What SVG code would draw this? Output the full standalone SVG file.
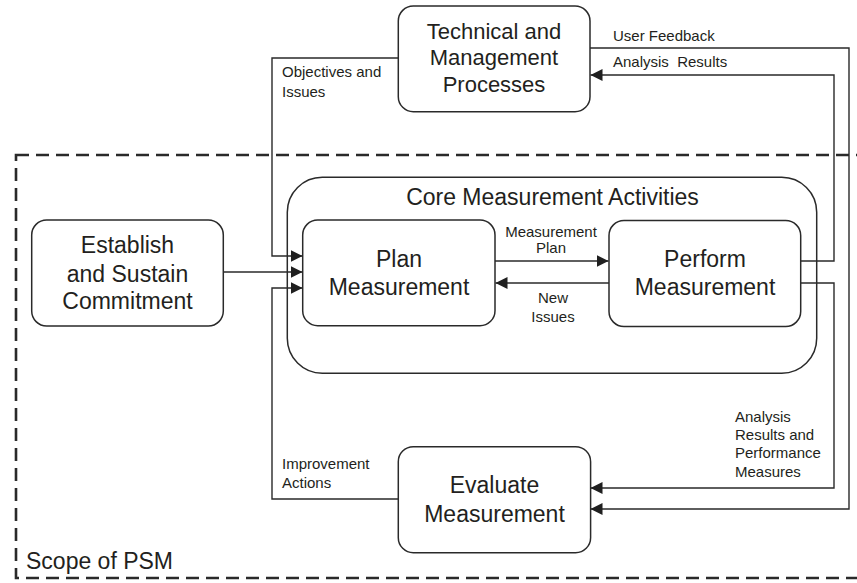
<svg xmlns="http://www.w3.org/2000/svg" width="857" height="583" viewBox="0 0 857 583">
<style>
  .box { fill: #ffffff; stroke: #2a2a2a; stroke-width: 1.5; }
  .core { fill: none; stroke: #2a2a2a; stroke-width: 1.5; }
  .conn { fill: none; stroke: #2a2a2a; stroke-width: 1.4; }
  .scope { fill: none; stroke: #2a2a2a; stroke-width: 2.6; stroke-dasharray: 13 7; }
  .big { font-family: "Liberation Sans", Arial, sans-serif; font-size: 23px; fill: #231f20; text-anchor: middle; }
  .big22 { font-family: "Liberation Sans", Arial, sans-serif; font-size: 22px; fill: #231f20; text-anchor: middle; }
  .small { font-family: "Liberation Sans", Arial, sans-serif; font-size: 15px; fill: #231f20; white-space: pre; }
  .smallc { font-family: "Liberation Sans", Arial, sans-serif; font-size: 15px; fill: #231f20; text-anchor: middle; }
</style>
<defs>
  <marker id="arrow" markerUnits="userSpaceOnUse" markerWidth="13" markerHeight="13" refX="12" refY="6" orient="auto">
    <path d="M0,0 L12,6 L0,12 Z" fill="#1f1f1f"/>
  </marker>
</defs>

<g id="scope">
  <rect class="scope" x="16" y="155" width="870" height="423"/>
  <text class="big" x="26" y="569" style="text-anchor:start">Scope of PSM</text>
</g>

<g id="core">
  <rect class="core" x="287.3" y="177.3" width="529.4" height="196" rx="35" ry="35"/>
  <text class="big" x="552.5" y="205">Core Measurement Activities</text>
</g>

<g id="connectors">
  <path class="conn" d="M398,58 H272 V256 H302.5" marker-end="url(#arrow)"/>
  <path class="conn" d="M223.5,272 H302.5" marker-end="url(#arrow)"/>
  <path class="conn" d="M398.5,499 H272 V288 H302.5" marker-end="url(#arrow)"/>
  <path class="conn" d="M495,261 H608.5" marker-end="url(#arrow)"/>
  <path class="conn" d="M609,283 H495.5" marker-end="url(#arrow)"/>
  <path class="conn" d="M801,261 H834 V75 H590.5" marker-end="url(#arrow)"/>
  <path class="conn" d="M590,48 H849 V509 H590.5" marker-end="url(#arrow)"/>
  <path class="conn" d="M801,283 H834 V488 H590.5" marker-end="url(#arrow)"/>
  <text class="small" x="282" y="77">Objectives and</text>
  <text class="small" x="282" y="96.5">Issues</text>
  <text class="small" x="613" y="40.5">User Feedback</text>
  <text class="small" x="613" y="66.5">Analysis  Results</text>
  <text class="smallc" x="551" y="236.5">Measurement</text>
  <text class="smallc" x="551" y="252.5">Plan</text>
  <text class="smallc" x="553" y="303">New</text>
  <text class="smallc" x="553" y="321.5">Issues</text>
  <text class="small" x="282" y="469">Improvement</text>
  <text class="small" x="282" y="488">Actions</text>
  <text class="small" x="735" y="421.5">Analysis</text>
  <text class="small" x="735" y="440">Results and</text>
  <text class="small" x="735" y="458.3">Performance</text>
  <text class="small" x="735" y="476.5">Measures</text>
</g>

<g id="technical">
  <rect class="box" x="398.3" y="6" width="191.7" height="105.7" rx="15" ry="15"/>
  <text class="big22" x="494" y="39.3">Technical and</text>
  <text class="big22" x="494" y="65.3">Management</text>
  <text class="big22" x="494" y="91.5">Processes</text>
</g>

<g id="establish">
  <rect class="box" x="31.7" y="220" width="191.6" height="106" rx="15" ry="15"/>
  <text class="big" x="127.5" y="253.3">Establish</text>
  <text class="big" x="127.5" y="281.5">and Sustain</text>
  <text class="big" x="127.5" y="309.3">Commitment</text>
</g>

<g id="plan">
  <rect class="box" x="302.7" y="220" width="192.3" height="105.7" rx="15" ry="15"/>
  <text class="big" x="399" y="267.3">Plan</text>
  <text class="big" x="399" y="295">Measurement</text>
</g>

<g id="perform">
  <rect class="box" x="609" y="220.5" width="191.7" height="106" rx="15" ry="15"/>
  <text class="big" x="705" y="267.3">Perform</text>
  <text class="big" x="705" y="295">Measurement</text>
</g>

<g id="evaluate">
  <rect class="box" x="398.3" y="446.7" width="192.3" height="106" rx="15" ry="15"/>
  <text class="big" x="494.5" y="493.3">Evaluate</text>
  <text class="big" x="494.5" y="521.7">Measurement</text>
</g>
</svg>
